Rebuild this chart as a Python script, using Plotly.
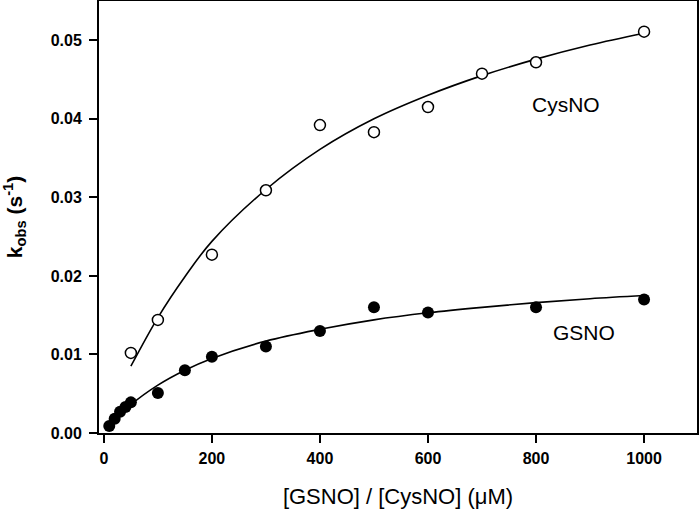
import plotly.graph_objects as go

# Data
gsno_x = [10, 20, 30, 40, 50, 100, 150, 200, 300, 400, 500, 600, 800, 1000]
gsno_y = [0.0009, 0.0018, 0.0027, 0.0033, 0.0039, 0.0051, 0.0080, 0.0097,
          0.0110, 0.0130, 0.0160, 0.01535, 0.0160, 0.0170]

cysno_x = [50, 100, 200, 300, 400, 500, 600, 700, 800, 1000]
cysno_y = [0.0102, 0.0144, 0.0227, 0.0309, 0.0392, 0.0383, 0.0415, 0.04575,
           0.0472, 0.0511]

# Fitted curves
gsno_fit_x = [10, 25, 50, 100, 150, 200, 300, 400, 500, 600, 700, 800, 900, 1000]
gsno_fit_y = [0.0008, 0.0019, 0.0036, 0.0061, 0.0080, 0.0095, 0.0117, 0.0132,
              0.0144, 0.0153, 0.0160, 0.0166, 0.0171, 0.0175]

cysno_fit_x = [50, 100, 150, 200, 300, 400, 500, 600, 700, 800, 900, 1000]
cysno_fit_y = [0.0085, 0.0147, 0.0199, 0.0244, 0.0310, 0.0361, 0.0400, 0.0430,
               0.0455, 0.0476, 0.0494, 0.0509]

x_ticks = [0, 200, 400, 600, 800, 1000]
y_ticks = [0.00, 0.01, 0.02, 0.03, 0.04, 0.05]
y_tick_text = ["0.00", "0.01", "0.02", "0.03", "0.04", "0.05"]

FONT = "Liberation Sans, Arial, sans-serif"

fig = go.Figure()

fig.add_trace(go.Scatter(x=cysno_fit_x, y=cysno_fit_y, mode="lines",
                         line=dict(color="black", width=1.6, shape="spline"),
                         showlegend=False, hoverinfo="skip"))
fig.add_trace(go.Scatter(x=gsno_fit_x, y=gsno_fit_y, mode="lines",
                         line=dict(color="black", width=1.6, shape="spline"),
                         showlegend=False, hoverinfo="skip"))

fig.add_trace(go.Scatter(x=gsno_x, y=gsno_y, mode="markers", name="GSNO",
                         marker=dict(symbol="circle", size=12, color="black",
                                     line=dict(width=0)),
                         showlegend=False))
fig.add_trace(go.Scatter(x=cysno_x, y=cysno_y, mode="markers", name="CysNO",
                         marker=dict(symbol="circle", size=11, color="white",
                                     line=dict(color="black", width=1.5)),
                         showlegend=False))

fig.add_annotation(x=856, y=0.0418, text="CysNO", showarrow=False,
                   font=dict(family=FONT, size=21, color="black"))
fig.add_annotation(x=888, y=0.0128, text="GSNO", showarrow=False,
                   font=dict(family=FONT, size=21, color="black"))

fig.update_layout(
    width=700, height=509,
    margin=dict(l=99, r=3, t=1, b=76, autoexpand=False),
    paper_bgcolor="white", plot_bgcolor="white",
    font=dict(family=FONT, color="black"),
)

fig.update_xaxes(
    range=[-9, 1098], tickvals=x_ticks, automargin=False,
    showline=True, linecolor="black", linewidth=2, mirror=True,
    ticks="outside", ticklen=8, tickwidth=1.5, tickcolor="black",
    ticklabelstandoff=2,
    showgrid=False, zeroline=False,
    tickfont=dict(family=FONT, size=16, color="black", weight="bold"),
    title=dict(text="[GSNO] / [CysNO] (\u03bcM)",
               font=dict(family=FONT, size=22, color="black"), standoff=24),
)
fig.update_yaxes(
    range=[0, 0.055], tickvals=y_ticks, ticktext=y_tick_text, automargin=False,
    showline=True, linecolor="black", linewidth=2, mirror=True,
    ticks="outside", ticklen=8, tickwidth=1.5, tickcolor="black",
    ticklabelstandoff=4,
    showgrid=False, zeroline=False,
    tickfont=dict(family=FONT, size=16, color="black", weight="bold"),
    title=dict(text="k<sub>obs</sub> (s<sup>-1</sup>)",
               font=dict(family=FONT, size=21, color="black", weight="bold"),
               standoff=24),
)

fig.write_html("out.html", config={"displayModeBar": False},
               post_script="document.body.style.margin='0';"
                           "document.documentElement.style.overflow='hidden';")
